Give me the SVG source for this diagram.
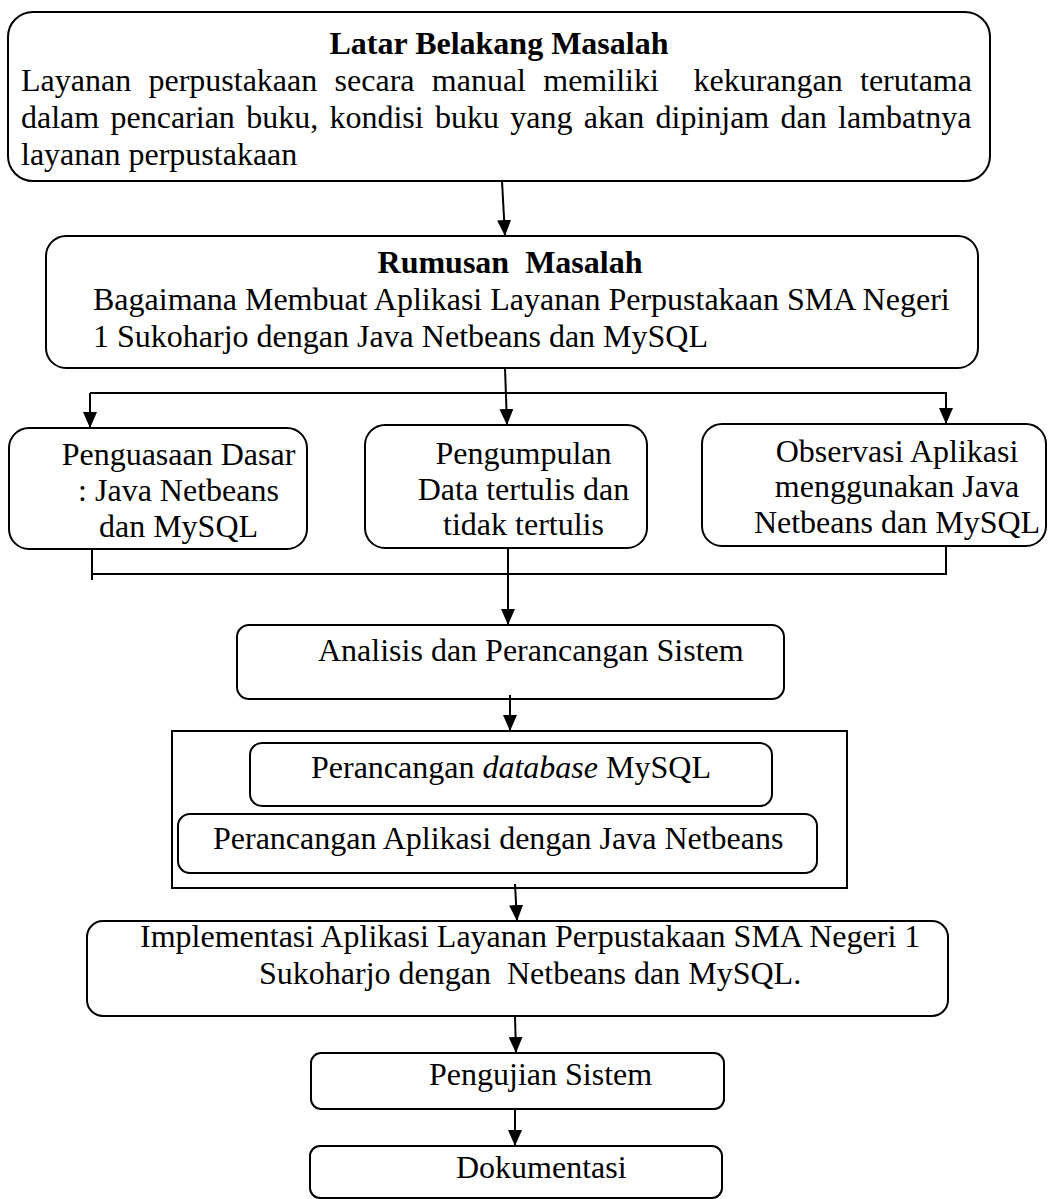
<svg xmlns="http://www.w3.org/2000/svg" width="1049" height="1199" viewBox="0 0 1049 1199">
<style>
  .box { fill: #ffffff; stroke: #000000; stroke-width: 2; }
  .t { font-family: "Liberation Serif", "Times New Roman", serif; font-size: 32px; fill: #000000; white-space: pre; }
  .b { font-weight: bold; }
  .m { text-anchor: middle; }
  .ln { fill: none; stroke: #000000; stroke-width: 2; }
</style>
<defs>
  <marker id="arr" viewBox="0 0 16 14" refX="16" refY="7" markerWidth="16" markerHeight="14" markerUnits="userSpaceOnUse" orient="auto">
    <path d="M0,0 L16,7 L0,14 Z" fill="#000000"/>
  </marker>
</defs>

<g id="latar-belakang">
  <rect class="box" x="8" y="12" width="982" height="169" rx="25" ry="25"/>
  <text class="t b m" x="499" y="54">Latar Belakang Masalah</text>
  <text class="t" x="21" y="91" word-spacing="9.3">Layanan perpustakaan secara manual memiliki  kekurangan terutama</text>
  <text class="t" x="21" y="128" word-spacing="3.3">dalam pencarian buku, kondisi buku yang akan dipinjam dan lambatnya</text>
  <text class="t" x="21" y="165">layanan perpustakaan</text>
</g>

<g id="rumusan">
  <rect class="box" x="46" y="236" width="932" height="132" rx="20" ry="20"/>
  <text class="t b m" x="510" y="273">Rumusan  Masalah</text>
  <text class="t" x="93" y="310">Bagaimana Membuat Aplikasi Layanan Perpustakaan SMA Negeri</text>
  <text class="t" x="93" y="347">1 Sukoharjo dengan Java Netbeans dan MySQL</text>
</g>

<g id="penguasaan">
  <rect class="box" x="9" y="428" width="298" height="121" rx="20" ry="20"/>
  <text class="t m" x="178.5" y="465">Penguasaan Dasar</text>
  <text class="t m" x="178.5" y="501">: Java Netbeans</text>
  <text class="t m" x="178.5" y="537">dan MySQL</text>
</g>

<g id="pengumpulan">
  <rect class="box" x="365" y="425" width="282" height="123" rx="20" ry="20"/>
  <text class="t m" x="523.5" y="464">Pengumpulan</text>
  <text class="t m" x="523.5" y="500">Data tertulis dan</text>
  <text class="t m" x="523.5" y="535">tidak tertulis</text>
</g>

<g id="observasi">
  <rect class="box" x="702" y="424" width="344" height="122" rx="20" ry="20"/>
  <text class="t m" x="897" y="462">Observasi Aplikasi</text>
  <text class="t m" x="897" y="497">menggunakan Java</text>
  <text class="t m" x="897" y="533">Netbeans dan MySQL</text>
</g>

<g id="analisis">
  <rect class="box" x="237" y="625" width="547" height="74" rx="12" ry="12"/>
  <text class="t" x="318" y="661">Analisis dan Perancangan Sistem</text>
</g>

<g id="perancangan">
  <rect class="box" x="172" y="731" width="675" height="157"/>
  <g id="perancangan-database">
    <rect class="box" x="250" y="743" width="522" height="63" rx="12" ry="12"/>
    <text class="t" x="311" y="778">Perancangan <tspan font-style="italic">database</tspan> MySQL</text>
  </g>
  <g id="perancangan-aplikasi">
    <rect class="box" x="178" y="814" width="639" height="59" rx="12" ry="12"/>
    <text class="t" x="213" y="849">Perancangan Aplikasi dengan Java Netbeans</text>
  </g>
</g>

<g id="implementasi">
  <rect class="box" x="87" y="921" width="861" height="95" rx="16" ry="16"/>
  <text class="t" x="140" y="947">Implementasi Aplikasi Layanan Perpustakaan SMA Negeri 1</text>
  <text class="t" x="259" y="984">Sukoharjo dengan  Netbeans dan MySQL.</text>
</g>

<g id="pengujian">
  <rect class="box" x="311" y="1053" width="413" height="56" rx="10" ry="10"/>
  <text class="t" x="429" y="1085">Pengujian Sistem</text>
</g>

<g id="dokumentasi">
  <rect class="box" x="310" y="1146" width="412" height="52" rx="10" ry="10"/>
  <text class="t" x="456" y="1178">Dokumentasi</text>
</g>

<g id="connectors">
  <line class="ln" x1="502" y1="181" x2="505" y2="236" marker-end="url(#arr)"/>
  <line class="ln" x1="505" y1="368" x2="507" y2="425" marker-end="url(#arr)"/>
  <polyline class="ln" points="90,393 946,393 946,424" marker-end="url(#arr)"/>
  <line class="ln" x1="90" y1="393" x2="90" y2="428" marker-end="url(#arr)"/>
  <polyline class="ln" points="92,549 92,580"/>
  <polyline class="ln" points="92,574 946,574 946,546"/>
  <line class="ln" x1="508" y1="548" x2="508" y2="625" marker-end="url(#arr)"/>
  <line class="ln" x1="510" y1="695" x2="510" y2="731" marker-end="url(#arr)"/>
  <line class="ln" x1="515" y1="884" x2="517" y2="921" marker-end="url(#arr)"/>
  <line class="ln" x1="515" y1="1016" x2="516" y2="1053" marker-end="url(#arr)"/>
  <line class="ln" x1="515" y1="1109" x2="515" y2="1146" marker-end="url(#arr)"/>
</g>
</svg>
